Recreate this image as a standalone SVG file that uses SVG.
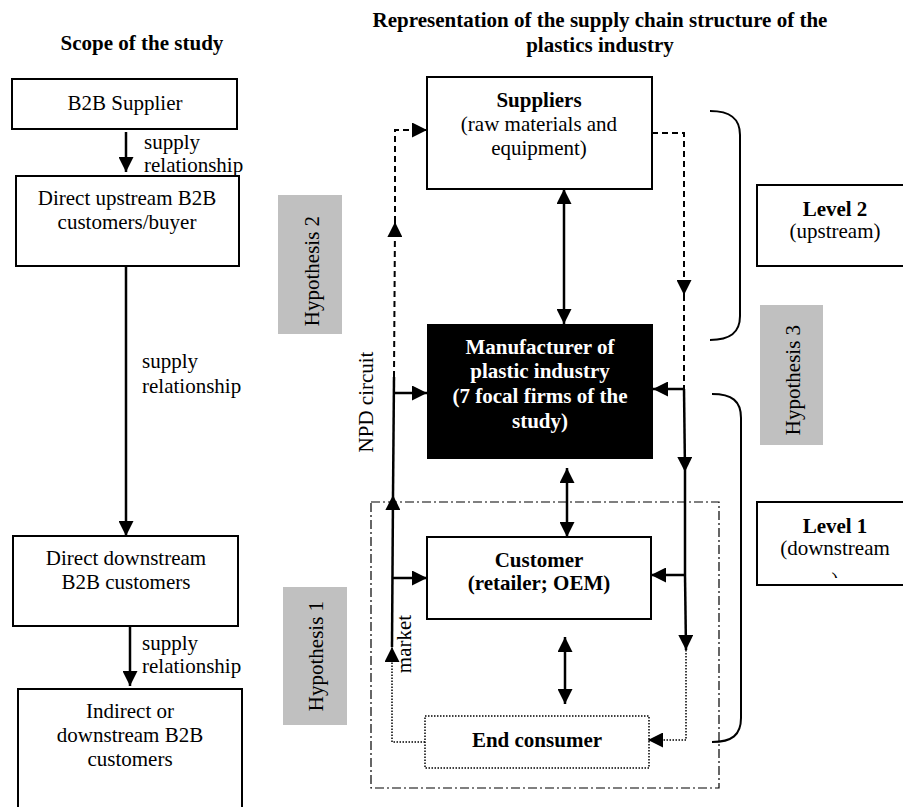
<svg xmlns="http://www.w3.org/2000/svg" width="903" height="807" viewBox="0 0 903 807">
<style>
text{font-family:"Liberation Serif","Times New Roman",serif;font-size:21px;fill:#000}
.b{font-weight:bold}
.m{text-anchor:middle}
.w{fill:#fff}
.box{fill:#fff;stroke:#000;stroke-width:2}
.hyp{fill:#c0c0c0}
.ln{fill:none;stroke:#000;stroke-width:2.5}
.da{stroke-dasharray:6,4;stroke-width:2}
.dt{stroke-dasharray:1.5,1.5;stroke-width:1.5}
.br{fill:none;stroke:#000;stroke-width:2}
</style>
<defs>
<marker id="ah" markerUnits="userSpaceOnUse" markerWidth="15" markerHeight="15" refX="15" refY="7.5" orient="auto-start-reverse" viewBox="0 0 15 15">
<path d="M0,0 L15,7.5 L0,15 z" fill="#000"/>
</marker>
<clipPath id="l1clip"><rect x="757" y="502" width="150" height="76"/></clipPath>
</defs>

<text class="b m" x="142" y="50">Scope of the study</text>
<text class="b m" x="600" y="27">Representation of the supply chain structure of the</text>
<text class="b m" x="600" y="52">plastics industry</text>

<g id="hyp2"><rect class="hyp" x="278" y="195" width="64" height="139"/><text class="m" transform="translate(319,271) rotate(-90)">Hypothesis 2</text></g>
<g id="hyp1"><rect class="hyp" x="283" y="587" width="64" height="138"/><text class="m" transform="translate(323,656) rotate(-90)">Hypothesis 1</text></g>
<g id="hyp3"><rect class="hyp" x="760" y="305" width="63" height="140"/><text class="m" transform="translate(800,380) rotate(-90)">Hypothesis 3</text></g>

<g id="b2bsupplier"><rect class="box" x="12" y="79" width="225" height="50"/><text class="m" x="125" y="110">B2B Supplier</text></g>
<g id="upstream"><rect class="box" x="16" y="176" width="223" height="90"/><text class="m" x="127" y="205">Direct upstream B2B</text><text class="m" x="127" y="229">customers/buyer</text></g>
<g id="downstream"><rect class="box" x="13" y="536" width="225" height="90"/><text class="m" x="126" y="565">Direct downstream</text><text class="m" x="126" y="589">B2B customers</text></g>
<g id="indirect"><rect class="box" x="18" y="689" width="224" height="130"/><text class="m" x="130" y="718">Indirect or</text><text class="m" x="130" y="742">downstream B2B</text><text class="m" x="130" y="766">customers</text></g>

<g id="suppliers"><rect class="box" x="427" y="77" width="225" height="112"/><text class="b m" x="539" y="107">Suppliers</text><text class="m" x="539" y="131">(raw materials and</text><text class="m" x="539" y="155">equipment)</text></g>
<g id="manufacturer"><rect x="427" y="324" width="226" height="135" fill="#000"/><text class="b m w" x="540" y="354">Manufacturer of</text><text class="b m w" x="540" y="378">plastic industry</text><text class="b m w" x="540" y="403">(7 focal firms of the</text><text class="b m w" x="540" y="428">study)</text></g>
<g id="scope"><rect x="371" y="502" width="348" height="286" fill="none" stroke="#000" stroke-width="1.2" stroke-dasharray="9,3,2,3"/></g>
<g id="customer"><rect class="box" x="427" y="537" width="224" height="82"/><text class="b m" x="539" y="567">Customer</text><text class="b m" x="539" y="590">(retailer; OEM)</text></g>
<g id="endconsumer"><rect x="425" y="716" width="224" height="52" fill="#fff" stroke="#000" stroke-width="1.5" stroke-dasharray="1.5,1.5"/><text class="b m" x="537" y="747">End consumer</text></g>

<g id="level2"><rect class="box" x="757" y="185" width="160" height="81"/><text class="b m" x="835" y="216">Level 2</text><text class="m" x="835" y="238">(upstream)</text></g>
<g id="level1"><rect class="box" x="757" y="502" width="160" height="83"/><g clip-path="url(#l1clip)"><text class="b m" x="835" y="533">Level 1</text><text class="m" x="835" y="555">(downstream</text><text class="m" x="835" y="587">)</text></g></g>

<g id="labels">
<text x="144" y="149">supply</text><text x="144" y="172">relationship</text>
<text x="142" y="368">supply</text><text x="142" y="393">relationship</text>
<text x="142" y="650">supply</text><text x="142" y="673">relationship</text>
<text class="m" transform="translate(373,402) rotate(-90)">NPD circuit</text>
<text class="m" transform="translate(411,644) rotate(-90)">market</text>
</g>

<g id="connectors">
<path class="ln" d="M126,132 L126,172" marker-end="url(#ah)"/>
<path class="ln" d="M126,266 L126,536" marker-end="url(#ah)"/>
<path class="ln" d="M130,626 L130,686" marker-end="url(#ah)"/>

<path class="ln" d="M564,189 L564,324" marker-start="url(#ah)" marker-end="url(#ah)"/>
<path class="ln" d="M567,468 L567,537" marker-start="url(#ah)" marker-end="url(#ah)"/>
<path class="ln" d="M565,637 L565,704" marker-start="url(#ah)" marker-end="url(#ah)"/>

<path class="ln dt" d="M425,742 L392,742 L392,647" marker-end="url(#ah)"/>
<path class="ln" d="M392,647 L393,495" marker-end="url(#ah)"/>
<path class="ln" d="M393,495 L394,377"/>
<path class="ln da" d="M394,377 L395,222" marker-end="url(#ah)"/>
<path class="ln da" d="M395,222 L395,130 L427,130" marker-end="url(#ah)"/>
<path class="ln" d="M394,393 L427,393" marker-end="url(#ah)"/>
<path class="ln" d="M392,578 L427,578" marker-end="url(#ah)"/>

<path class="ln da" d="M652,133 L684,133 L684,295" marker-end="url(#ah)"/>
<path class="ln da" d="M684,295 L684,389"/>
<path class="ln" d="M684,389 L653,389" marker-end="url(#ah)"/>
<path class="ln" d="M684,389 L685,472" marker-end="url(#ah)"/>
<path class="ln" d="M685,472 L685,575"/>
<path class="ln" d="M685,575 L651,575" marker-end="url(#ah)"/>
<path class="ln" d="M685,575 L686,650" marker-end="url(#ah)"/>
<path class="ln dt" d="M686,650 L686,740 L648,740" marker-end="url(#ah)"/>

<path class="br" d="M710,111 C730,111 740,118 740,135 L740,316 C740,333 730,340 710,340"/>
<path class="br" d="M712,394 C732,394 741,401 741,418 L741,718 C741,735 732,742 712,742"/>
</g>
</svg>
